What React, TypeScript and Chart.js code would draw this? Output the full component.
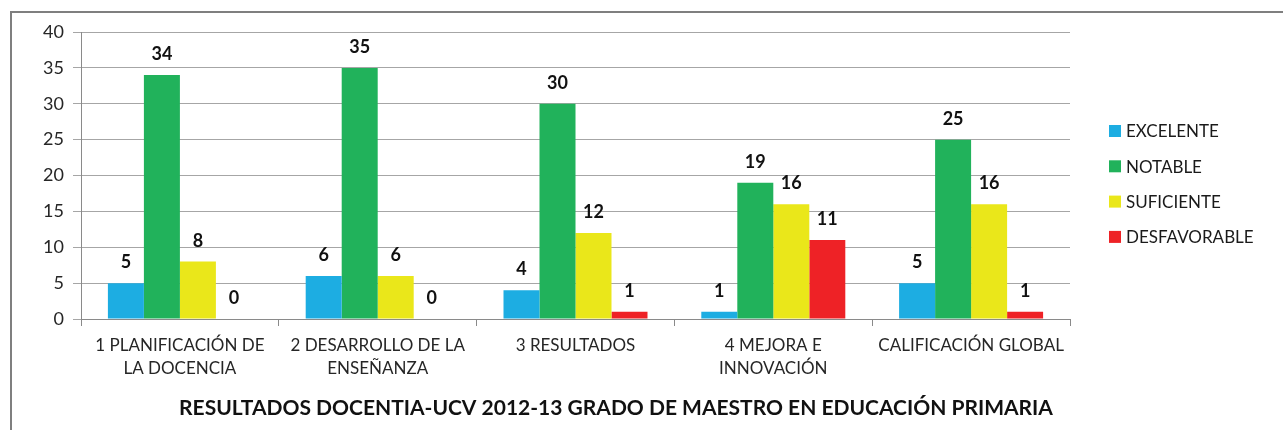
import React, { useEffect, useRef } from "react";
import { Chart, registerables } from "chart.js";

Chart.register(...registerables);

const categories: (string | string[])[] = [
  ["1 PLANIFICACIÓN DE", "LA DOCENCIA"],
  ["2 DESARROLLO DE LA", "ENSEÑANZA"],
  "3 RESULTADOS",
  ["4 MEJORA E", "INNOVACIÓN"],
  "CALIFICACIÓN GLOBAL",
];
const seriesNames = ["EXCELENTE", "NOTABLE", "SUFICIENTE", "DESFAVORABLE"];
const excelente = [5, 6, 4, 1, 5];
const notable = [34, 35, 30, 19, 25];
const suficiente = [8, 6, 12, 16, 16];
const desfavorable = [0, 0, 1, 11, 1];
const seriesColors = ["#1DADE2", "#21B25B", "#EAE71A", "#EE2226"];
const yTicks = [0, 5, 10, 15, 20, 25, 30, 35, 40];
const chartTitle =
  "RESULTADOS DOCENTIA-UCV 2012-13 GRADO DE MAESTRO EN EDUCACIÓN PRIMARIA";

const FONT = "Lato, 'Open Sans', sans-serif";

const labelsPlugin = {
  id: "valueLabels",
  afterDatasetsDraw(chart: any) {
    const ctx = chart.ctx;
    ctx.save();
    ctx.font = `bold 18px ${FONT}`;
    ctx.fillStyle = "#111";
    ctx.textAlign = "center";
    ctx.textBaseline = "alphabetic";
    chart.data.datasets.forEach((ds: any, i: number) => {
      const meta = chart.getDatasetMeta(i);
      meta.data.forEach((el: any, j: number) => {
        ctx.fillText(String(ds.data[j]), el.x, el.y - 15);
      });
    });
    ctx.restore();
  },
};

const legendTitlePlugin = {
  id: "legendTitle",
  afterDraw(chart: any) {
    const ctx = chart.ctx;
    ctx.save();
    // legend
    ctx.font = `17px ${FONT}`;
    ctx.textBaseline = "middle";
    ctx.textAlign = "left";
    chart.data.datasets.forEach((ds: any, i: number) => {
      const cy = 131 + i * 35.3;
      ctx.fillStyle = ds.backgroundColor;
      ctx.fillRect(1109, cy - 6, 12, 12);
      ctx.fillStyle = "#1a1a1a";
      ctx.fillText(ds.label, 1126, cy + 1);
    });
    // title
    ctx.font = `bold 21px ${FONT}`;
    ctx.fillStyle = "#111";
    ctx.textAlign = "center";
    ctx.textBaseline = "alphabetic";
    ctx.fillText(chartTitle, 616, 415);
    ctx.restore();
  },
};

export default function App() {
  const ref = useRef<HTMLCanvasElement | null>(null);
  useEffect(() => {
    document.body.style.margin = "0";
    document.body.style.overflow = "hidden";
    const values = [excelente, notable, suficiente, desfavorable];
    const chart = new Chart(ref.current as HTMLCanvasElement, {
      type: "bar",
      data: {
        labels: categories,
        datasets: values.map((d, i) => ({
          label: seriesNames[i],
          data: d,
          backgroundColor: seriesColors[i],
          borderWidth: 0,
          categoryPercentage: 0.728,
          barPercentage: 1,
        })),
      },
      options: {
        responsive: false,
        animation: false,
        layout: { padding: { left: 20, top: 32, right: 213, bottom: 51 } },
        plugins: {
          legend: { display: false },
          title: { display: false },
          tooltip: { enabled: false },
        },
        scales: {
          x: {
            afterFit: (s: any) => {
              s.height = 60;
            },
            grid: {
              drawOnChartArea: false,
              drawTicks: true,
              tickLength: 7,
              color: "#8a8a8a",
              offset: true,
            },
            border: { color: "#8a8a8a" },
            ticks: {
              font: { family: FONT, size: 17, lineHeight: 1.36 },
              color: "#262626",
              padding: 8,
              maxRotation: 0,
              autoSkip: false,
            },
          },
          y: {
            min: 0,
            max: 40,
            afterFit: (s: any) => {
              s.width = 61;
            },
            afterBuildTicks: (s: any) => {
              s.ticks = yTicks.map((v) => ({ value: v }));
            },
            grid: { color: "#a6a6a6", tickLength: 8 },
            border: { color: "#8a8a8a" },
            ticks: {
              font: { family: FONT, size: 18 },
              color: "#262626",
              padding: 9,
            },
          },
        },
      },
      plugins: [labelsPlugin, legendTitlePlugin],
    });
    return () => chart.destroy();
  }, []);
  return (
    <div
      style={{
        position: "fixed",
        left: 0,
        top: 0,
        width: 1283,
        height: 430,
        overflow: "hidden",
        background: "#fff",
      }}
    >
      <div
        style={{
          position: "absolute",
          left: 10,
          top: 11,
          width: 1400,
          height: 500,
          borderLeft: "2px solid #7f7f7f",
          borderTop: "2px solid #7f7f7f",
        }}
      />
      <canvas
        ref={ref}
        width={1283}
        height={430}
        style={{ position: "absolute", left: 0, top: 0 }}
      />
    </div>
  );
}
